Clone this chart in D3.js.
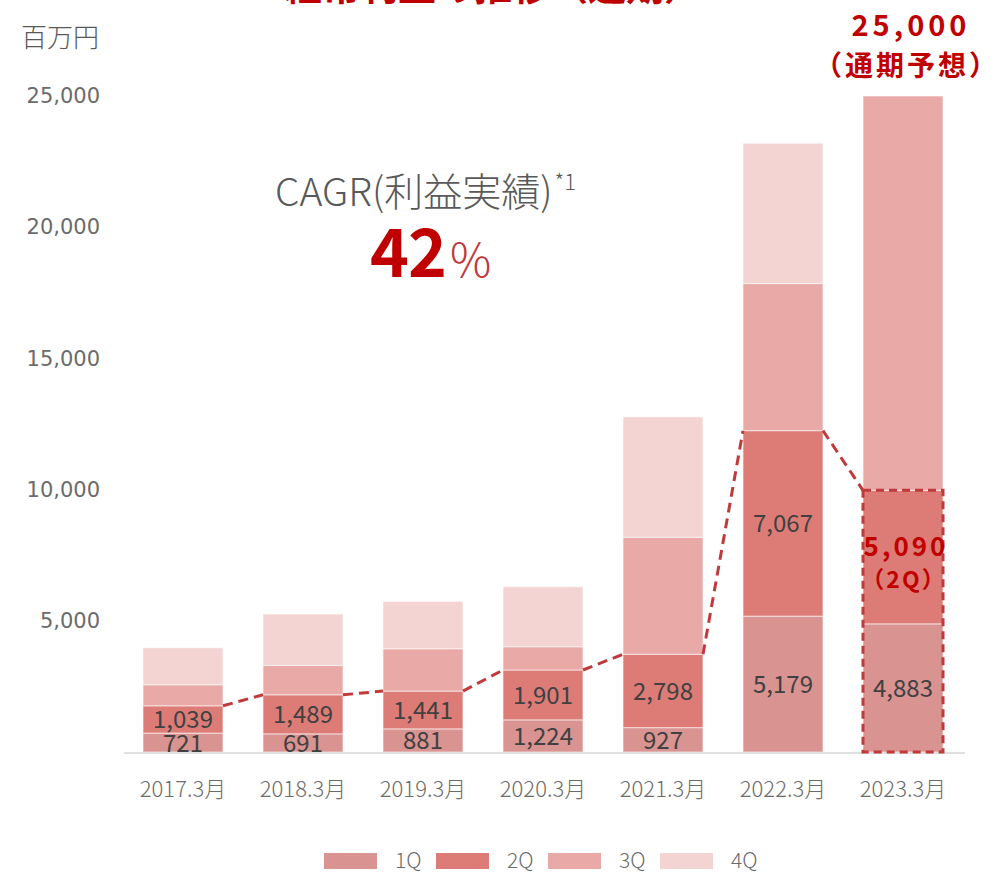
<!DOCTYPE html>
<html>
<head>
<meta charset="utf-8">
<script src="https://cdn.jsdelivr.net/npm/d3@7"></script>
<style>
  body { margin: 0; background: #fff; }
  svg { display: block; }
</style>
</head>
<body>
<svg id="chart"></svg>
<script>
const width = 998;
const height = 873;

// data (百万円)
const years = ["2017.3月", "2018.3月", "2019.3月", "2020.3月", "2021.3月", "2022.3月", "2023.3月"];
const q1 = [721, 691, 881, 1224, 927, 5179, 4883];
const q2 = [1039, 1489, 1441, 1901, 2798, 7067, 5090];
const q3 = [804, 1119, 1613, 886, 4456, 5605, 15027];
const q4 = [1409, 1958, 1806, 2286, 4592, 5349, 0];
const quarters = ["1Q", "2Q", "3Q", "4Q"];
const colors = ["#d99391", "#dd7c76", "#e9a9a7", "#f3d4d3"];
const yTicks = [5000, 10000, 15000, 20000, 25000];

const jp = "'Noto Sans CJK JP', 'Noto Sans', sans-serif";
const red = "#c00000";
const dashRed = "#c0393b";

const svg = d3.select("#chart")
    .attr("width", width)
    .attr("height", height)
    .style("font-family", jp);

const rows = years.map((y, i) => ({ year: y, "1Q": q1[i], "2Q": q2[i], "3Q": q3[i], "4Q": q4[i] }));
const stacked = d3.stack().keys(quarters)(rows);

const x = d3.scaleBand()
    .domain(years)
    .range([123, 963])
    .paddingInner(1 / 3)
    .paddingOuter(1 / 6);

const y = d3.scaleLinear()
    .domain([0, 25000])
    .range([752, 96]);

// title (cut off at top)
svg.append("text")
    .attr("x", 493).attr("y", 0)
    .attr("text-anchor", "middle")
    .attr("fill", red)
    .attr("font-size", 38)
    .attr("font-weight", "bold")
    .text("経常利益の推移（通期）");

svg.append("text")
    .attr("x", 21).attr("y", 47)
    .attr("fill", "#595959")
    .attr("font-size", 26)
    .attr("font-weight", 300)
    .text("百万円");

// y axis labels
const yAxis = d3.axisLeft(y)
    .tickValues(yTicks)
    .tickFormat(d3.format(","))
    .tickSize(0)
    .tickPadding(0);
svg.append("g")
    .attr("transform", "translate(100,0)")
    .call(yAxis)
    .call(g => g.select(".domain").remove())
    .selectAll("text")
    .attr("fill", "#6b6b6b")
    .attr("font-size", 21)
    .style("font-family", "'DejaVu Sans', sans-serif");

// bars
svg.append("g")
    .selectAll("g")
    .data(stacked)
    .join("g")
    .attr("fill", (d, i) => colors[i])
    .selectAll("rect")
    .data(d => d)
    .join("rect")
    .attr("x", d => x(d.data.year))
    .attr("y", d => y(d[1]))
    .attr("width", x.bandwidth())
    .attr("height", d => y(d[0]) - y(d[1]))
    .attr("stroke", "#fff")
    .attr("stroke-opacity", 0.6)
    .attr("stroke-width", 1);

// baseline
svg.append("line")
    .attr("x1", 124).attr("x2", 965)
    .attr("y1", y(0) + 1).attr("y2", y(0) + 1)
    .attr("stroke", "#e0e0e0")
    .attr("stroke-width", 2);

// x axis
const xAxis = d3.axisBottom(x).tickSize(0).tickPadding(0);
svg.append("g")
    .attr("transform", "translate(0,797)")
    .call(xAxis)
    .call(g => g.select(".domain").remove())
    .selectAll("text")
    .attr("dy", 0)
    .attr("fill", "#6b6b6b")
    .attr("font-size", 22)
    .attr("font-weight", 300)
    .style("font-family", jp);

// value labels for 1Q and 2Q
const labelLayers = [stacked[0], stacked[1]];
labelLayers.forEach((layer, li) => {
    svg.append("g")
        .selectAll("text")
        .data(layer.filter((d, i) => !(li === 1 && i === years.length - 1)))
        .join("text")
        .attr("x", d => x(d.data.year) + x.bandwidth() / 2)
        .attr("y", d => (y(d[0]) + y(d[1])) / 2 + 9)
        .attr("text-anchor", "middle")
        .attr("fill", "#404040")
        .attr("font-size", 24)
        .text(d => d3.format(",")(d[1] - d[0]));
});

// dashed connector between 2Q tops
const lastIdx = years.length - 1;
const tops = stacked[1];
for (let i = 0; i < lastIdx; i++) {
    svg.append("line")
        .attr("x1", x(years[i]) + x.bandwidth())
        .attr("y1", y(tops[i][1]))
        .attr("x2", x(years[i + 1]))
        .attr("y2", y(tops[i + 1][1]))
        .attr("stroke", dashRed)
        .attr("stroke-width", 3)
        .attr("stroke-dasharray", "10,6");
}

// dashed box around 2023 1Q+2Q
svg.append("rect")
    .attr("x", x(years[lastIdx]))
    .attr("y", y(tops[lastIdx][1]))
    .attr("width", x.bandwidth())
    .attr("height", y(0) - y(tops[lastIdx][1]))
    .attr("fill", "none")
    .attr("stroke", dashRed)
    .attr("stroke-width", 3)
    .attr("stroke-dasharray", "8,5");

// 2023 2Q highlighted label
const cx23 = x(years[lastIdx]) + x.bandwidth() / 2;
const mid2Q = (y(tops[lastIdx][0]) + y(tops[lastIdx][1])) / 2;
svg.append("text")
    .attr("x", cx23 + 3).attr("y", mid2Q - 1)
    .attr("text-anchor", "middle")
    .attr("fill", red)
    .attr("font-size", 26)
    .attr("font-weight", "bold")
    .attr("letter-spacing", 3)
    .text(d3.format(",")(q2[lastIdx]));
svg.append("text")
    .attr("x", cx23 + 1).attr("y", mid2Q + 31)
    .attr("text-anchor", "middle")
    .attr("fill", red)
    .attr("font-size", 23)
    .attr("font-weight", "bold")
    .attr("letter-spacing", 2)
    .text("（2Q）");

// forecast label
const total23 = q1[lastIdx] + q2[lastIdx] + q3[lastIdx] + q4[lastIdx];
svg.append("text")
    .attr("x", cx23 + 8).attr("y", 36)
    .attr("text-anchor", "middle")
    .attr("fill", red)
    .attr("font-size", 29)
    .attr("font-weight", "bold")
    .attr("letter-spacing", 4)
    .text(d3.format(",")(total23));
svg.append("text")
    .attr("x", cx23 + 4).attr("y", 76)
    .attr("text-anchor", "middle")
    .attr("fill", red)
    .attr("font-size", 28)
    .attr("font-weight", "bold")
    .attr("letter-spacing", 3)
    .text("（通期予想）");

// CAGR annotation
const cagr = svg.append("text")
    .attr("x", 275).attr("y", 206)
    .attr("fill", "#595959")
    .attr("font-size", 39)
    .attr("font-weight", 300);
cagr.append("tspan").text("CAGR(利益実績)");
cagr.append("tspan").attr("font-size", 22).attr("dy", -16).attr("dx", 2).text("*1");

const pct = svg.append("text")
    .attr("x", 370).attr("y", 277)
    .attr("fill", red);
pct.append("tspan").attr("font-size", 66).attr("font-weight", "bold").attr("letter-spacing", -1).text("42");
pct.append("tspan").attr("font-size", 46).attr("font-weight", 300).attr("fill", "#c0393b").attr("dx", 4).text("%");

// legend
const legendX = [324, 436, 548, 660];
const legend = svg.append("g")
    .selectAll("g")
    .data(quarters)
    .join("g")
    .attr("transform", (d, i) => `translate(${legendX[i]},853)`);
legend.append("rect")
    .attr("width", 53)
    .attr("height", 16)
    .attr("fill", (d, i) => colors[i]);
legend.append("text")
    .attr("x", 71).attr("y", 15)
    .attr("fill", "#6b6b6b")
    .attr("font-size", 21)
    .attr("font-weight", 300)
    .text(d => d);
</script>
</body>
</html>
